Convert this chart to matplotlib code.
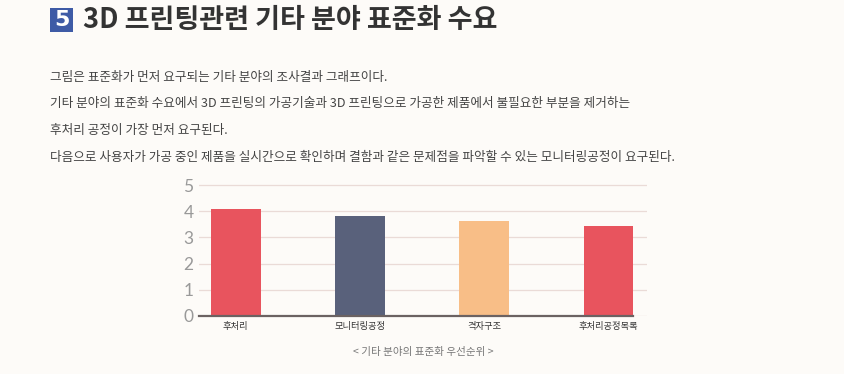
import matplotlib
matplotlib.use("Agg")
import matplotlib.pyplot as plt
from matplotlib.patches import FancyBboxPatch

plt.rcParams['font.family'] = ['Noto Sans CJK KR', 'DejaVu Sans']

categories = ["후처리", "모니터링공정", "격자구조", "후처리공정목록"]
values = [4.10, 3.82, 3.63, 3.44]
bar_colors = ["#E8545E", "#59617B", "#F8BE87", "#E8545E"]
y_ticks = [0, 1, 2, 3, 4, 5]

title_num = "5"
title_text = "3D 프린팅관련 기타 분야 표준화 수요"
body_lines = [
    "그림은 표준화가 먼저 요구되는 기타 분야의 조사결과 그래프이다.",
    "기타 분야의 표준화 수요에서 3D 프린팅의 가공기술과 3D 프린팅으로 가공한 제품에서 불필요한 부분을 제거하는",
    "후처리 공정이 가장 먼저 요구된다.",
    "다음으로 사용자가 가공 중인 제품을 실시간으로 확인하며 결함과 같은 문제점을 파악할 수 있는 모니터링공정이 요구된다.",
]
caption = "< 기타 분야의 표준화 우선순위 >"

W, H = 845, 374
bg = "#FDFBF8"
fig = plt.figure(figsize=(W / 100, H / 100), dpi=100, facecolor=bg)

# Title
fig.patches.append(FancyBboxPatch((50 / W, 1 - 32 / H), 23 / W, 24 / H,
                                  boxstyle="square,pad=0", transform=fig.transFigure,
                                  facecolor="#3E5BA6", edgecolor="none"))
fig.text(61.5 / W, 1 - 20 / H, title_num, color="white", fontsize=16, fontweight="bold",
         ha="center", va="center", family=["DejaVu Sans"])
fig.text(83 / W, 1 - 20 / H, title_text, color="#333333", fontsize=19.5, fontweight="bold",
         ha="left", va="center")

# Body text
for i, line in enumerate(body_lines):
    fig.text(50 / W, 1 - (77 + i * 26.7) / H, line, color="#444444", fontsize=9.1,
             ha="left", va="center")

# Axes
ymax = 5.04
px_per_unit = 26.2
ax_left, ax_right = 199, 647
ax_bottom = 316
ax_h = px_per_unit * ymax
ax = fig.add_axes([ax_left / W, 1 - ax_bottom / H, (ax_right - ax_left) / W, ax_h / H])
ax.set_facecolor(bg)
x = list(range(len(categories)))
ax.bar(x, values, width=0.4, color=bar_colors, zorder=3)
ax.set_xlim(-0.295, 3.31)
ax.set_ylim(0, ymax)
ax.set_yticks(y_ticks)
ax.set_yticklabels([str(t) for t in y_ticks], color="#999999", fontsize=12.5,
                   family=["Lato", "DejaVu Sans"], fontweight="normal")
ax.set_xticks(x)
ax.set_xticklabels(categories, fontsize=6.7, color="#333333")
ax.tick_params(axis="both", length=0)
ax.tick_params(axis="y", pad=4)
ax.tick_params(axis="x", pad=4)
ax.grid(axis="y", color="#EADBD7", linewidth=0.9, zorder=0)
for s in ["top", "right", "left"]:
    ax.spines[s].set_visible(False)
ax.spines["bottom"].set_color("#6B6262")
ax.spines["bottom"].set_linewidth(1.6)
ax.spines["bottom"].set_bounds(-0.295, 3.2)
ax.spines["bottom"].set_zorder(4)

fig.text(423 / W, 1 - 352 / H, caption, color="#777777", fontsize=7.6, ha="center", va="center")

fig.savefig("out.png", dpi=100, facecolor=bg)
